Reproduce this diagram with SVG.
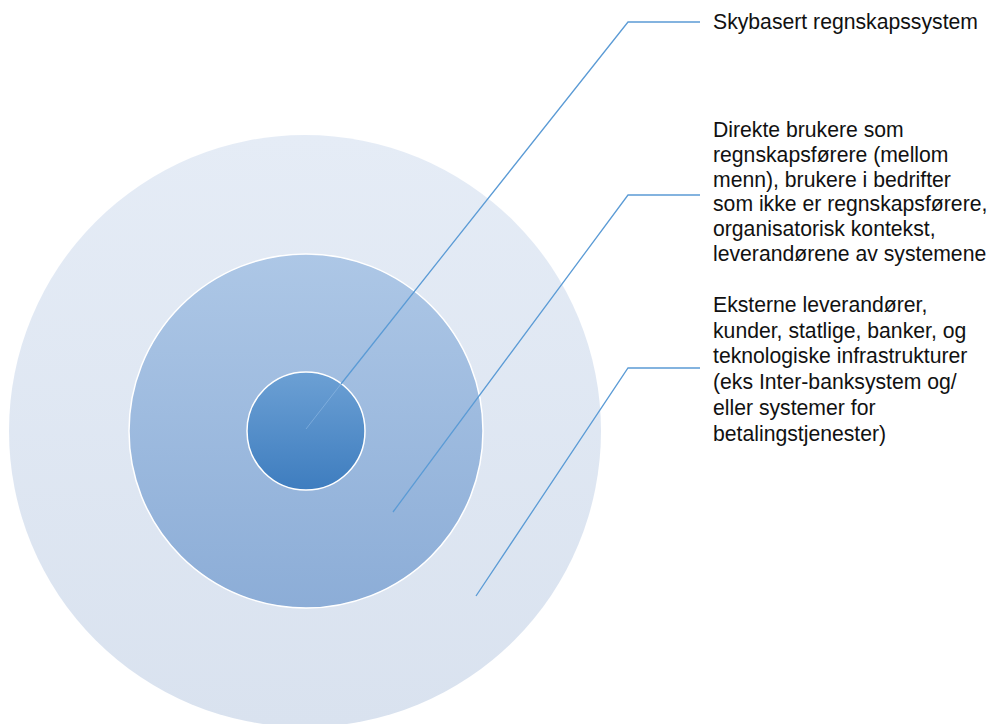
<svg xmlns="http://www.w3.org/2000/svg" width="995" height="724" viewBox="0 0 995 724">
<style>
text{font-family:"Liberation Sans",Arial,sans-serif;font-size:21.2px;fill:#111}
.con{fill:none;stroke:#5b9bd5;stroke-width:1.3}
.ring{stroke:#fff;stroke-width:1.5}
</style>
<defs>
<linearGradient id="gOuter" x1="0" y1="0" x2="0" y2="1"><stop offset="0" stop-color="#e5ecf6"/><stop offset="1" stop-color="#d9e2ef"/></linearGradient>
<linearGradient id="gMid" x1="0" y1="0" x2="0" y2="1"><stop offset="0" stop-color="#adc7e6"/><stop offset="1" stop-color="#8cadd7"/></linearGradient>
<linearGradient id="gIn" x1="0" y1="0" x2="0" y2="1"><stop offset="0" stop-color="#6ca0d4"/><stop offset="1" stop-color="#3e7dbf"/></linearGradient>
</defs>
<g id="outer"><circle cx="305" cy="431" r="296" fill="url(#gOuter)"/></g>
<g id="middle"><circle class="ring" cx="306" cy="431" r="177" fill="url(#gMid)"/></g>
<g id="inner"><circle class="ring" cx="306" cy="431" r="59" fill="url(#gIn)"/></g>
<g id="connectors">
<line x1="306" y1="429" x2="341" y2="384" stroke="#9cc3ea" stroke-width="1" opacity="0.5"/>
<polyline class="con" points="341,384 628,22 700,22"/>
<polyline class="con" points="393,512 628,195 700,195"/>
<polyline class="con" points="476,596 628,368 700,368"/>
</g>
<g id="label1"><text x="713" y="29">Skybasert regnskapssystem</text></g>
<g id="label2">
<text x="713" y="137">Direkte brukere som</text>
<text x="713" y="162">regnskapsførere (mellom</text>
<text x="713" y="186.5">menn), brukere i bedrifter</text>
<text x="713" y="211">som ikke er regnskapsførere,</text>
<text x="713" y="236">organisatorisk kontekst,</text>
<text x="713" y="261">leverandørene av systemene</text>
</g>
<g id="label3">
<text x="713" y="312">Eksterne leverandører,</text>
<text x="713" y="337.5">kunder, statlige, banker, og</text>
<text x="713" y="363">teknologiske infrastrukturer</text>
<text x="713" y="389">(eks Inter-banksystem og/</text>
<text x="713" y="414.5">eller systemer for</text>
<text x="713" y="440.5">betalingstjenester)</text>
</g>
</svg>
